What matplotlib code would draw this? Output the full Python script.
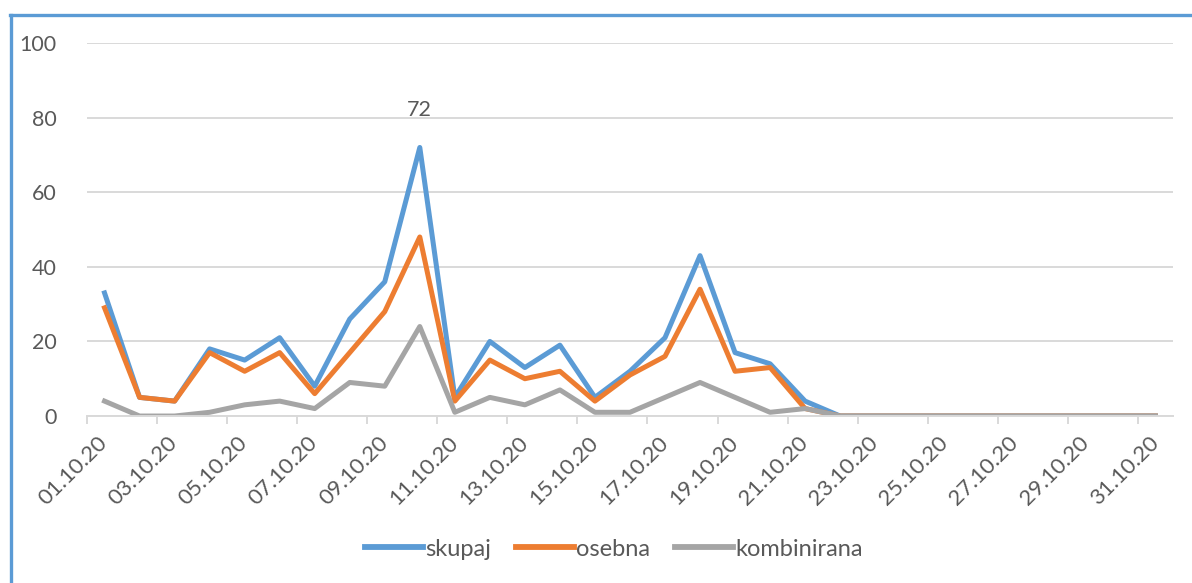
import matplotlib
matplotlib.use("Agg")
import matplotlib.pyplot as plt
from matplotlib.lines import Line2D

plt.rcParams['font.family'] = ['Lato', 'DejaVu Sans']

# daily counts, October 2020
days = [f"{d:02d}.10.20" for d in range(1, 32)]
skupaj = [33, 5, 4, 18, 15, 21, 8, 26, 36, 72, 5, 20, 13, 19, 5, 12, 21, 43, 17, 14, 4,
          0, 0, 0, 0, 0, 0, 0, 0, 0, 0]
osebna = [29, 5, 4, 17, 12, 17, 6, 17, 28, 48, 4, 15, 10, 12, 4, 11, 16, 34, 12, 13, 2,
          0, 0, 0, 0, 0, 0, 0, 0, 0, 0]
kombinirana = [4, 0, 0, 1, 3, 4, 2, 9, 8, 24, 1, 5, 3, 7, 1, 1, 5, 9, 5, 1, 2,
               0, 0, 0, 0, 0, 0, 0, 0, 0, 0]

series = [("skupaj", skupaj, "#5B9BD5"),
          ("osebna", osebna, "#ED7D31"),
          ("kombinirana", kombinirana, "#A5A5A5")]

text_col = "#595959"
grid_col = "#D9D9D9"

fig = plt.figure(figsize=(11.92, 5.83), dpi=100)
ax = fig.add_axes([0.073, 0.2864, 0.911, 0.6398])

x = list(range(len(days)))
for name, vals, col in series:
    ax.plot(x, vals, color=col, lw=3.6, label=name, solid_joinstyle='round')

# data label on the peak
peak = skupaj.index(max(skupaj))
ax.annotate(str(skupaj[peak]), (peak, skupaj[peak]), xytext=(0, 20),
            textcoords='offset points', ha='center', va='bottom',
            fontsize=15.5, color=text_col)

ax.set_xlim(-0.5, len(days) - 0.5)
ax.set_ylim(0, 100)
ax.set_yticks([0, 20, 40, 60, 80, 100])
ax.yaxis.grid(True, color=grid_col, lw=1.4)
ax.set_axisbelow(True)

# labels on every second day, tick marks on category boundaries
ax.set_xticks(x[::2])
ax.set_xticklabels(days[::2], rotation=45, ha='right', va='center',
                   rotation_mode='anchor')
ax.set_xticks([i - 0.5 for i in x[::2]], minor=True)
ax.tick_params(axis='x', which='major', length=0, pad=17, labelsize=16,
               labelcolor=text_col)
ax.tick_params(axis='x', which='minor', length=6, width=1.4, color=grid_col)
ax.tick_params(axis='y', length=0, pad=22, labelsize=15.5, labelcolor=text_col)

for s in ['top', 'right', 'left']:
    ax.spines[s].set_visible(False)
ax.spines['bottom'].set_color(grid_col)
ax.spines['bottom'].set_linewidth(1.4)

leg = ax.legend(loc='center', bbox_to_anchor=(0.515, 0.058), bbox_transform=fig.transFigure,
                ncol=3, frameon=False, fontsize=17, labelcolor=text_col,
                handlelength=2.45, handletextpad=0.1, columnspacing=1.05)
for h in leg.get_lines():
    h.set_linewidth(4.2)

# outer chart border (left and top edges visible)
bcol = "#5B9BD5"
fig.add_artist(Line2D([11 / 1192, 11 / 1192], [0, 1 - 15 / 583],
                      transform=fig.transFigure, color=bcol, lw=2.4))
fig.add_artist(Line2D([10 / 1192, 1], [1 - 15 / 583, 1 - 15 / 583],
                      transform=fig.transFigure, color=bcol, lw=2.4))

fig.savefig("out.png", dpi=100)
